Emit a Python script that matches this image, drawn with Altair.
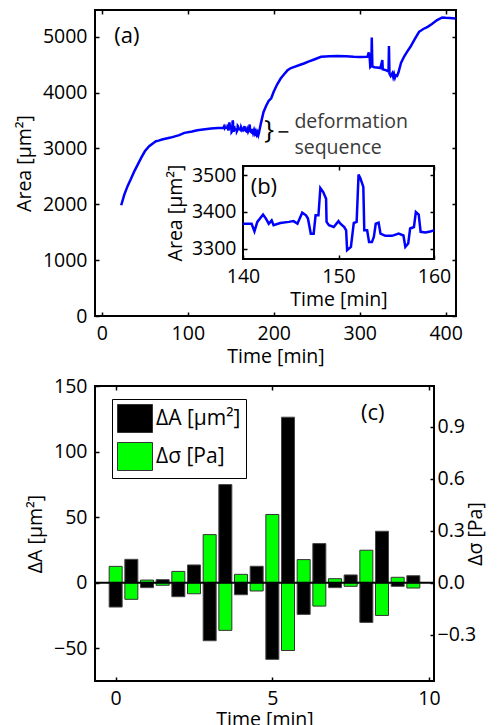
import altair as alt
import pandas as pd

FONT = "Open Sans"
FS = 19.5

# ---------------- data: panel (a) area vs time ----------------
t_rise = [22.5, 26, 30, 34, 38, 42, 46, 50, 55, 60, 63, 66, 70, 80, 90, 96, 105, 111, 120, 127, 135, 139]
a_rise = [1983, 2170, 2330, 2461, 2600, 2720, 2840, 2950, 3040, 3100, 3130, 3140, 3160, 3195, 3240, 3280, 3305, 3328, 3345, 3357, 3365, 3368]

t_b = [140, 140.9, 141.2, 141.5, 142.1, 142.4, 142.7, 143.0, 143.2, 143.9, 144.8, 145.3, 145.7, 146.2, 146.6, 146.8,
       147.1, 147.4, 147.6, 147.9, 148.1, 148.4, 148.7, 148.75, 149.0, 149.5, 150.0, 150.2, 150.6, 150.8, 150.9, 151.3,
       151.6, 151.9, 152.1, 152.3, 152.6, 152.7, 153.0, 153.2, 153.5, 153.7, 153.9, 154.2, 154.4, 154.9, 155.6, 156.3,
       156.8, 157.0, 157.3, 157.5, 157.9, 158.1, 158.4, 158.6, 159.1, 159.6, 160]
a_b = [3368, 3368, 3347, 3373, 3393, 3382, 3368, 3377, 3364, 3370, 3373, 3375, 3368, 3398, 3391, 3382,
       3341, 3341, 3391, 3391, 3465, 3454, 3436, 3373, 3364, 3359, 3375, 3368, 3359, 3350, 3296, 3305,
       3370, 3373, 3502, 3491, 3468, 3350, 3350, 3318, 3318, 3332, 3368, 3371, 3341, 3335, 3335, 3341,
       3336, 3305, 3314, 3355, 3359, 3400, 3393, 3346, 3344, 3347, 3350]

t_tail = [160.5, 161.5, 162, 163, 164, 165, 166, 166.5, 168, 169, 170, 171, 172, 172.5, 174, 175, 176, 177, 178, 179,
          180, 181, 182, 183, 185, 188, 191, 194, 197, 200, 204, 208, 212, 216, 220, 224, 230, 235, 241, 247, 255,
          265, 274, 284, 293, 300, 309, 310.5, 311.5, 312.3, 313.5, 314, 314.7, 317, 320, 324, 326.3, 326.8, 331,
          333.5, 334, 334.6, 336, 338, 339, 340, 341, 342, 343.5, 345, 348, 351.5, 355, 359, 364, 369, 374, 379,
          384, 390, 396, 400, 405, 411.5]
a_tail = [3345, 3330, 3380, 3340, 3325, 3360, 3400, 3330, 3310, 3350, 3300, 3340, 3430, 3310, 3290, 3350, 3280, 3330,
          3270, 3310, 3250, 3290, 3240, 3300, 3450, 3650, 3760, 3850, 3900, 4020, 4150, 4253, 4330, 4400, 4440, 4462,
          4495, 4522, 4560, 4594, 4642, 4650, 4654, 4650, 4642, 4640, 4642, 4720, 4640, 4460, 4480, 4988, 4470, 4455,
          4450, 4440, 4582, 4420, 4400, 4380, 4833, 4340, 4300, 4350, 4280, 4330, 4270, 4310, 4300, 4360, 4530, 4642,
          4730, 4821, 4960, 5090, 5140, 5179, 5230, 5299, 5346, 5340, 5335, 5328]

# ---------------- data: panel (c) bars ----------------
slot_t = [0, 0.5, 1, 1.5, 2, 2.5, 3, 3.5, 4, 4.5, 5, 5.5, 6, 6.5, 7, 7.5, 8, 8.5, 9, 9.5]
dA = [-18.6, 17.8, -3.8, 2.3, -10.7, 13.5, -44.3, 74.8, -9.2, 12.5, -58.5, 126.2, -24.2, 29.8, -3.8, 5.9, -30.3, 39.2, -2.8, 5.3]
dS = [0.094, -0.096, 0.015, -0.015, 0.065, -0.064, 0.277, -0.275, 0.048, -0.048, 0.393, -0.391, 0.133, -0.135, 0.023,
      -0.021, 0.187, -0.189, 0.031, -0.031]

ticks_a_x = [0, 100, 200, 300, 400]
ticks_a_y = [0, 1000, 2000, 3000, 4000, 5000]
ticks_b_x = [140, 150, 160]
ticks_b_y = [3300, 3400, 3500]
ticks_c_x = [0, 5, 10]
ticks_c_yl = [-50, 0, 50, 100, 150]
ticks_c_yr = [-0.3, 0, 0.3, 0.6, 0.9]

series_names = ["ΔA [µm²]", "Δσ [Pa]"]
series_colors = ["black", "#00ff00"]

main_df = pd.DataFrame({"t": t_rise + t_b + t_tail, "a": a_rise + a_b + a_tail})
bars_df = pd.DataFrame({"t": slot_t, "dA": dA, "dS": dS})


def ax(**kw):
    base = dict(domain=False, grid=False, tickColor="black", tickWidth=1.5, tickSize=4,
                labelFont=FONT, labelFontSize=FS, labelColor="black", labelFlush=False,
                labelOverlap=False, titleFont=FONT, titleFontSize=FS, titleFontWeight="normal",
                titleColor="black", zindex=1, format="d")
    base.update(kw)
    return alt.Axis(**base)


def txt_layer(df, sx, sy, fs, color, xf="t", yf="a"):
    return alt.Chart(df).mark_text(align="left", baseline="middle", fontSize=fs, font=FONT, color=color).encode(
        x=alt.X(xf + ":Q", scale=sx, axis=None), y=alt.Y(yf + ":Q", scale=sy, axis=None), text="txt:N")


# ---------------- panel (a) ----------------
W1, H1 = 361, 306
sx_a = alt.Scale(domain=[-8, 412], nice=False, zero=False)
sy_a = alt.Scale(domain=[0, 5480], nice=False, zero=False)

line_a = alt.Chart(main_df).mark_line(color="#0000ff", strokeWidth=2.5).encode(
    x=alt.X("t:Q", scale=sx_a, axis=ax(orient="bottom", offset=-4, values=ticks_a_x, labelPadding=8,
                                        title="Time [min]", titlePadding=5)),
    y=alt.Y("a:Q", scale=sy_a, axis=ax(orient="left", offset=-4, values=ticks_a_y, labelPadding=8,
                                        title="Area [µm²]", titlePadding=8)),
)

mirror_a = alt.Chart(main_df).mark_point(opacity=0).encode(
    x=alt.X("t:Q", scale=sx_a, axis=ax(orient="top", offset=-4, values=ticks_a_x, labels=False, title=None)),
    y=alt.Y("a:Q", scale=sy_a, axis=ax(orient="right", offset=-4, values=ticks_a_y, labels=False, title=None,
                                        minExtent=0)),
)

lab_a = txt_layer(pd.DataFrame({"t": [14.3], "a": [5018], "txt": ["(a)"]}), sx_a, sy_a, 22, "black")
def_txt = txt_layer(pd.DataFrame({"t": [224.0, 224.0], "a": [3470, 3000], "txt": ["deformation", "sequence"]}),
                    sx_a, sy_a, FS, "#3a3a3a")
brace = txt_layer(pd.DataFrame({"t": [189.0], "a": [3330], "txt": ["}"]}), sx_a, sy_a, 26, "black")

tick_df = pd.DataFrame({"t": [205.5], "t2": [217.0], "a": [3297]})
brace_tick = alt.Chart(tick_df).mark_rule(color="black", strokeWidth=1.5).encode(
    x=alt.X("t:Q", scale=sx_a, axis=None), x2="t2:Q", y=alt.Y("a:Q", scale=sy_a, axis=None))

# inset (b)
sx_b = alt.Scale(domain=[140, 160], range=[148, 339], nice=False, zero=False)
sy_b = alt.Scale(domain=[3272, 3525], range=[249, 156], nice=False, zero=False)

frame_df = pd.DataFrame({"t": [140], "t2": [160], "a": [3272], "a2": [3525]})
frame_b = alt.Chart(frame_df).mark_rect(fill="white", stroke="black", strokeWidth=2).encode(
    x=alt.X("t:Q", scale=sx_b, axis=ax(orient="top", offset=-160, values=ticks_b_x, labels=False, title=None)),
    x2="t2:Q",
    y=alt.Y("a:Q", scale=sy_b, axis=ax(orient="right", offset=-26, values=ticks_b_y, labels=False, title=None,
                                        minExtent=0)),
    y2="a2:Q")

line_b = alt.Chart(main_df).transform_filter("datum.t >= 140 && datum.t <= 160").mark_line(
    color="#0000ff", strokeWidth=2.5).encode(
    x=alt.X("t:Q", scale=sx_b, axis=ax(orient="bottom", offset=-61, values=ticks_b_x, labelPadding=8,
                                        title="Time [min]", titlePadding=5)),
    y=alt.Y("a:Q", scale=sy_b, axis=ax(orient="left", offset=-152, values=ticks_b_y, labelPadding=7,
                                        title="Area [µm²]", titlePadding=6)),
)

lab_b = txt_layer(pd.DataFrame({"t": [140.8], "a": [3468], "txt": ["(b)"]}), sx_b, sy_b, 22, "black")

top = alt.layer(line_a, mirror_a, lab_a, def_txt, brace, brace_tick, frame_b, line_b, lab_b).resolve_scale(
    x="independent", y="independent").properties(width=W1, height=H1)

# ---------------- panel (c) ----------------
W2, H2 = 339, 295
sx_c = alt.Scale(domain=[-0.5, 10], nice=False, zero=False)
sy_cl = alt.Scale(domain=[-75, 150], nice=False, zero=False)
sy_cr = alt.Scale(domain=[-0.5669, 1.1338], nice=False, zero=False)
col_scale = alt.Scale(domain=series_names, range=series_colors)
legend = alt.Legend(orient="none", legendX=17, legendY=13, title=None, fillColor="white", strokeColor="black",
                    padding=5, symbolType="M-1,-1L1.5,-1L1.5,1L-1,1Z", symbolSize=784,
                    symbolStrokeColor="#333333", symbolStrokeWidth=1, symbolOpacity=1,
                    labelFont=FONT, labelFontSize=21, labelColor="black", labelOffset=10, rowPadding=5)

green = alt.Chart(bars_df).transform_calculate(s="'" + series_names[1] + "'").mark_bar(
    size=13, stroke="#333333", strokeWidth=1).encode(
    x=alt.X("t:Q", scale=sx_c, axis=ax(orient="top", offset=-4, values=ticks_c_x, labels=False, title=None)),
    y=alt.Y("dS:Q", scale=sy_cr, axis=ax(orient="right", offset=-4, values=ticks_c_yr, format=".1f",
                                          labelPadding=3, title="Δσ [Pa]", titleAngle=270, titleBaseline="top",
                                          titlePadding=-9)),
    y2=alt.datum(0),
    color=alt.Color("s:N", scale=col_scale, legend=legend),
)

black = alt.Chart(bars_df).transform_calculate(s="'" + series_names[0] + "'").mark_bar(
    size=13, stroke="#444444", strokeWidth=1).encode(
    x=alt.X("t:Q", scale=sx_c, axis=ax(orient="bottom", offset=-4, values=ticks_c_x, labelPadding=8,
                                        title="Time [min]", titlePadding=3)),
    y=alt.Y("dA:Q", scale=sy_cl, axis=ax(orient="left", offset=-4, values=ticks_c_yl, labelPadding=8,
                                          title="ΔA [µm²]", titlePadding=8)),
    y2=alt.datum(0),
    color=alt.Color("s:N", scale=col_scale, legend=legend),
)

zero_rule = alt.Chart(pd.DataFrame({"dA": [0]})).mark_rule(color="black", strokeWidth=2).encode(
    y=alt.Y("dA:Q", scale=sy_cl, axis=None))

lab_c = txt_layer(pd.DataFrame({"t": [7.74], "dA": [129.5], "txt": ["(c)"]}), sx_c, sy_cl, 22, "black", yf="dA")

bottom = alt.layer(green, black, zero_rule, lab_c).resolve_scale(
    x="independent", y="independent").properties(width=W2, height=H2)

chart = alt.vconcat(top, bottom, spacing=8).resolve_scale(color="independent").resolve_legend(
    color="independent").properties(
    padding={"left": 5, "top": 0, "right": 0, "bottom": 0}
).configure(font=FONT).configure_view(stroke="black", strokeWidth=2)

chart.save("out.html", embed_options={"renderer": "svg", "actions": False})
